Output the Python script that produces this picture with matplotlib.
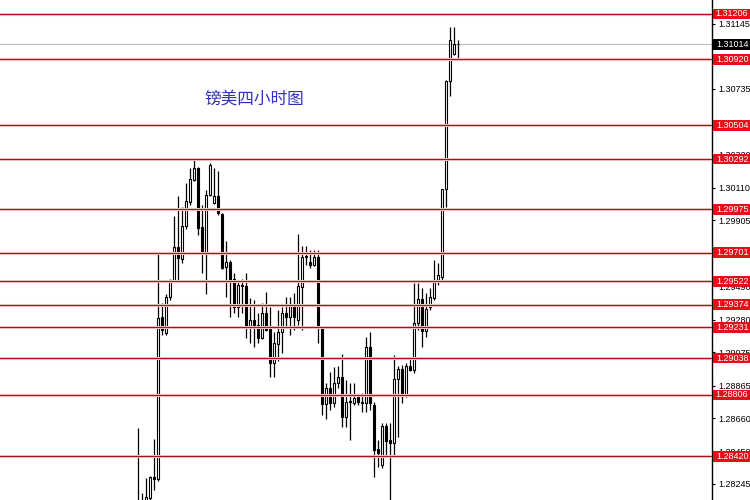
#coding:utf8

import matplotlib
matplotlib.use("Agg")
import matplotlib.pyplot as plt
from matplotlib.patches import Rectangle

# Bougies 4h GBP/USD
ouvertures = [1.28113, 1.28106, 1.28131, 1.28156, 1.28289, 1.28277, 1.29297, 1.29196, 1.29423, 1.29530,
              1.29738, 1.29662, 1.29870, 1.30021, 1.30160, 1.30236, 1.29864, 1.29706, 1.30066, 1.30015,
              1.30059, 1.29946, 1.29612, 1.29644, 1.29536, 1.29360, 1.29499, 1.29492, 1.29234, 1.29278,
              1.29247, 1.29165, 1.29322, 1.29221, 1.29007, 1.29127, 1.29202, 1.29322, 1.29297, 1.29373,
              1.29278, 1.29486, 1.29675, 1.29644, 1.29625, 1.29675, 1.29228, 1.28749, 1.28850, 1.28755,
              1.28881, 1.28919, 1.28667, 1.28761, 1.28755, 1.28793, 1.28761, 1.28755, 1.29108, 1.28743,
              1.28465, 1.28365, 1.28610, 1.28522, 1.28503, 1.28906, 1.28969, 1.28799, 1.28988, 1.28963,
              1.29259, 1.29410, 1.29209, 1.29360, 1.29417, 1.29517, 1.29549, 1.30103, 1.30784, 1.30954,
              1.31017]
hauts = [1.28598, 1.28188, 1.28283, 1.28296, 1.28528, 1.29706, 1.29385, 1.29442, 1.29536, 1.29933,
         1.30059, 1.29990, 1.30141, 1.30236, 1.30290, 1.30240, 1.30003, 1.30097, 1.30267, 1.30236,
         1.30217, 1.29950, 1.29776, 1.29656, 1.29574, 1.29530, 1.29536, 1.29574, 1.29417, 1.29404,
         1.29322, 1.29385, 1.29455, 1.29360, 1.29202, 1.29341, 1.29360, 1.29423, 1.29423, 1.29448,
         1.29820, 1.29744, 1.29744, 1.29719, 1.29719, 1.29719, 1.29230, 1.28881, 1.28950, 1.28982,
         1.28988, 1.29064, 1.28900, 1.28881, 1.28881, 1.28805, 1.28818, 1.29171, 1.29202, 1.28761,
         1.28522, 1.28629, 1.28629, 1.28629, 1.29058, 1.28988, 1.28994, 1.29007, 1.29045, 1.29511,
         1.29511, 1.29480, 1.29448, 1.29480, 1.29656, 1.29637, 1.30105, 1.30790, 1.31124, 1.31124,
         1.31042]
bas = [1.28050, 1.28081, 1.28113, 1.28131, 1.28207, 1.28264, 1.29184, 1.29184, 1.29404, 1.29524,
       1.29530, 1.29637, 1.29851, 1.30003, 1.30155, 1.29814, 1.29574, 1.29442, 1.30060, 1.30010,
       1.29939, 1.29599, 1.29423, 1.29297, 1.29322, 1.29297, 1.29322, 1.29165, 1.29133, 1.29108,
       1.29133, 1.29160, 1.29210, 1.28919, 1.28919, 1.29019, 1.29070, 1.29234, 1.29184, 1.29215,
       1.29247, 1.29215, 1.29625, 1.29606, 1.29620, 1.29133, 1.28680, 1.28654, 1.28711, 1.28730,
       1.28850, 1.28604, 1.28604, 1.28522, 1.28743, 1.28743, 1.28698, 1.28698, 1.28711, 1.28289,
       1.28352, 1.28346, 1.28415, 1.28120, 1.28415, 1.28541, 1.28755, 1.28793, 1.28957, 1.28944,
       1.29215, 1.29108, 1.29171, 1.29341, 1.29404, 1.29499, 1.29530, 1.29990, 1.30689, 1.30950,
       1.30922]
clotures = [1.28068, 1.28131, 1.28163, 1.28289, 1.28277, 1.29291, 1.29215, 1.29423, 1.29524, 1.29738,
            1.29668, 1.29870, 1.30028, 1.30166, 1.30236, 1.29858, 1.29706, 1.30066, 1.30255, 1.30059,
            1.29952, 1.29606, 1.29644, 1.29517, 1.29360, 1.29499, 1.29492, 1.29234, 1.29278, 1.29247,
            1.29165, 1.29322, 1.29215, 1.29007, 1.29133, 1.29202, 1.29322, 1.29297, 1.29373, 1.29297,
            1.29492, 1.29675, 1.29681, 1.29625, 1.29675, 1.29228, 1.28749, 1.28850, 1.28755, 1.28881,
            1.28919, 1.28667, 1.28761, 1.28768, 1.28787, 1.28761, 1.28758, 1.29108, 1.28755, 1.28459,
            1.28440, 1.28610, 1.28516, 1.28503, 1.28906, 1.28969, 1.28805, 1.28988, 1.28963, 1.29259,
            1.29410, 1.29209, 1.29347, 1.29423, 1.29517, 1.29562, 1.30103, 1.30784, 1.31042, 1.31017,
            1.31014]

# Lignes horizontales (supports / résistances)
niveaux = [1.31206, 1.30920, 1.30504, 1.30292, 1.29975, 1.29701,
           1.29522, 1.29374, 1.29231, 1.29038, 1.28806, 1.28420]
prix_actuel = 1.31014
graduations = [1.31145, 1.30940, 1.30735, 1.30525, 1.30320, 1.30110, 1.29905, 1.29700,
               1.29490, 1.29280, 1.29075, 1.28865, 1.28660, 1.28450, 1.28245]
titre = "镑美四小时图"

plt.rcParams['font.family'] = ['Liberation Sans', 'DejaVu Sans']

fig = plt.figure(figsize=(7.5, 5), dpi=100)
ax = fig.add_axes([0, 0, 712 / 750, 1])
ax.set_xlim(-34.5, 143.5)
ax.set_ylim(1.28144, 1.31294)

# 1. Bougies
for i in range(len(ouvertures)):
    o, h, l, c = ouvertures[i], hauts[i], bas[i], clotures[i]
    ax.vlines(i, l, h, color='black', lw=0.9, zorder=2)
    couleur = 'white' if c >= o else 'black'
    hauteur = max(abs(c - o), 0.00002)
    ax.add_patch(Rectangle((i - 0.32, min(o, c)), 0.64, hauteur,
                           facecolor=couleur, edgecolor='black', lw=0.8, zorder=3))

# 2. Lignes rouges et prix actuel
for n in niveaux:
    ax.axhline(n, color='#f7d4d4', lw=2.2, zorder=4)
    ax.axhline(n, color='#a8141a', lw=0.9, zorder=5)
ax.axhline(prix_actuel, color='#c0c0c0', lw=0.9, zorder=1)

# 3. Titre
ax.text(0.357, 0.802, titre, transform=ax.transAxes, color='#3232b8', fontsize=12,
        ha='center', va='center', family=['Noto Sans CJK SC', 'DejaVu Sans'])

# 4. Axe des prix à droite
for s in ['top', 'left', 'bottom']:
    ax.spines[s].set_visible(False)
ax.spines['right'].set_linewidth(1.0)
ax.set_xticks([])
ax.yaxis.tick_right()
ax.set_yticks(graduations)
ax.set_yticklabels([f"{g:.5f}" for g in graduations])
ax.tick_params(axis='y', direction='out', length=2.5, width=0.8, labelsize=6.5, pad=2)

# 5. Etiquettes rouges des niveaux (elles recouvrent certaines graduations, comme dans MT4)
ax2 = fig.add_axes([712 / 750, 0, 38 / 750, 1])
ax2.set_xlim(0, 1)
ax2.set_ylim(1.28144, 1.31294)
ax2.axis('off')
ax2.patch.set_alpha(0)
h_boite = 0.00068
for n in niveaux:
    ax2.add_patch(Rectangle((0.03, n - h_boite / 2), 0.97, h_boite, facecolor='#e3101a', edgecolor='none'))
    ax2.text(0.53, n, f"{n:.5f}", color='white', fontsize=6.5, ha='center', va='center')
ax2.add_patch(Rectangle((0.03, prix_actuel - h_boite / 2), 0.97, h_boite, facecolor='black', edgecolor='none'))
ax2.text(0.53, prix_actuel, f"{prix_actuel:.5f}", color='white', fontsize=6.5, ha='center', va='center')

plt.savefig('out.png', dpi=100)
plt.close()
